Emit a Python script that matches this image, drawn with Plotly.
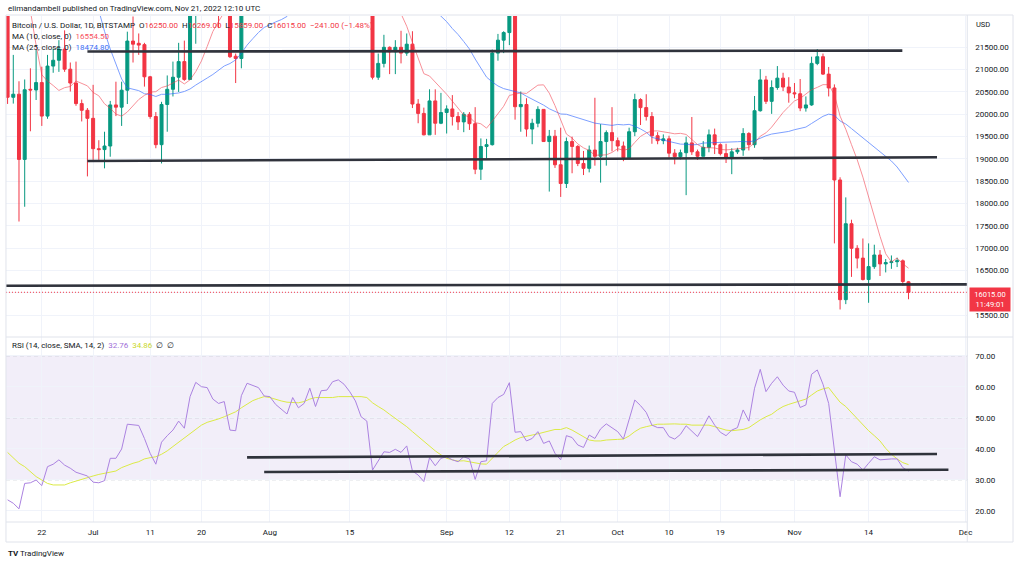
import pandas as pd
import plotly.graph_objects as go

# ---------------- data ----------------
dates = pd.date_range("2022-06-16", "2022-11-21", freq="D")

open_ = [
    22572, 20381, 20450, 18990, 20560, 20545, 20710, 19960, 21080, 21210, 21460, 21010, 20700, 20240, 20090,
    19910, 19230, 19210, 19290, 20210, 20160, 20540, 21640, 21590, 21560, 20840, 19950, 19320, 20220, 20560,
    20830, 21180, 20780, 22485, 23389, 23231, 23164, 22714, 22465, 22609, 21300, 21250, 22930, 23843, 23804, 23656,
    23336, 23314, 22978, 22846, 22630, 23289, 22961, 23175, 23810, 23149, 23954, 23935, 24403, 24441, 24306,
    24094, 23854, 23343, 23213, 20830, 21140, 21500, 21400, 21500, 21370, 21570, 20230, 20020, 19540, 20300, 19800,
    20040, 20120, 19950, 19830, 20000, 19790, 18770, 19280, 19320, 21370, 21660, 21830, 22380, 20170, 20220,
    19670, 19800, 20110, 19390, 19510, 18870, 18450, 19390, 19280, 18900, 18790, 19200, 19060, 19390, 19590,
    19410, 19290, 19030, 19610, 20330, 20150, 19950, 19520, 19410, 19450, 19130, 19050, 19140, 19360, 19160,
    19060, 19260, 19540, 19320, 19120, 19020, 19160, 19200, 19570, 19320, 20080, 20770, 20290, 20600, 20810, 20610,
    20480, 20460, 20140, 20210, 21140, 21290, 20900, 20590, 18530, 15850, 17550, 17000, 16780, 16300, 16590,
    16850, 16650, 16680, 16700, 16720, 16250,
]
high = [
    22980, 21330, 20740, 20780, 21030, 21440, 21066, 21330, 21470, 21660, 21880, 21160, 21180, 20330, 20140,
    20660, 19420, 19610, 20300, 20730, 20730, 21850, 22190, 21810, 21600, 20860, 20050, 20280, 20870, 21180,
    21600, 21650, 22760, 23800, 24280, 23430, 23760, 22980, 23010, 22650, 21360, 23100, 24171, 24440, 24647, 24184,
    23475, 23467, 23647, 23213, 23448, 23355, 23399, 24226, 23926, 24206, 24900, 24443, 24890, 25047, 25211,
    24247, 24438, 23602, 23220, 21360, 21780, 21520, 21660, 21870, 21810, 21860, 20340, 20150, 20560, 20560, 20480,
    20200, 20430, 20050, 20050, 20050, 20160, 19460, 19450, 21450, 21800, 21860, 22480, 22500, 20510, 20360,
    19900, 20180, 20110, 19650, 19650, 19700, 19480, 19500, 19310, 19180, 19300, 20370, 19780, 19640, 20160,
    19480, 19390, 19700, 20460, 20360, 20450, 20050, 19600, 19550, 19520, 19220, 19210, 19500, 19940, 19210,
    19400, 19660, 19680, 19350, 19340, 19240, 19250, 19690, 19600, 20410, 21010, 20860, 20760, 21080, 20930, 20830,
    20700, 20790, 20400, 21290, 21460, 21360, 21060, 20670, 18590, 18140, 17640, 17070, 17220, 17110, 17080,
    16960, 16760, 16840, 16790, 16750, 16269,
]
low = [
    20232, 20240, 17600, 17930, 19620, 20320, 19740, 19900, 20930, 20950, 20950, 20510, 20190, 19840, 18610,
    18980, 18980, 18790, 19050, 19960, 19740, 20230, 21160, 21330, 20620, 19900, 19240, 18900, 19610, 20400,
    20500, 20750, 20770, 21580, 22900, 22340, 22500, 21930, 22260, 21260, 20700, 21030, 22603, 23412, 23532, 23233,
    22860, 22692, 22700, 22454, 22590, 22936, 22847, 23157, 22883, 22678, 23874, 23601, 24309, 24126, 23779,
    23706, 23200, 23095, 20780, 20770, 21050, 20900, 20900, 21140, 21310, 20140, 19800, 19530, 19540, 19540, 19780,
    19570, 19750, 19650, 19600, 19650, 18660, 18530, 19010, 19300, 21200, 21370, 21550, 19880, 19610, 19500,
    19330, 19710, 19380, 18270, 18800, 18150, 18350, 18680, 18840, 18640, 18700, 18850, 18470, 18850, 19170,
    19170, 18950, 19000, 19510, 19760, 19860, 19340, 19330, 19330, 19030, 18880, 18990, 18190, 19090, 18980,
    19060, 19150, 19110, 19080, 18910, 18660, 19110, 19070, 19190, 19250, 20060, 20230, 20010, 20550, 20520, 20260,
    20360, 20070, 20060, 20190, 21100, 20880, 20400, 17110, 15630, 15750, 16360, 16550, 16280, 15780, 16540,
    16380, 16460, 16540, 16580, 16160, 15859,
]
close = [
    20381, 20450, 18990, 20550, 20545, 20710, 19960, 21080, 21210, 21460, 21010, 20700, 20240, 20090, 19910,
    19230, 19210, 19290, 20210, 20160, 20540, 21640, 21570, 21550, 20840, 19950, 19320, 20220, 20560, 20830,
    21180, 20780, 22485, 23389, 23231, 23164, 22714, 22465, 22609, 21290, 21250, 22930, 23843, 23804, 23656, 23336,
    23314, 22978, 22846, 22630, 23289, 22961, 23175, 23810, 23149, 23954, 23935, 24403, 24441, 24306, 24094,
    23854, 23343, 23213, 20830, 21140, 21500, 21400, 21500, 21370, 21570, 20230, 20020, 19540, 20300, 19800, 20040,
    20120, 19950, 19830, 20000, 19790, 18770, 19280, 19320, 21370, 21660, 21830, 22380, 20170, 20220, 19670,
    19800, 20110, 19390, 19510, 18870, 18450, 19390, 19280, 18900, 18790, 19200, 19060, 19390, 19590, 19410,
    19290, 19030, 19610, 20330, 20150, 19950, 19520, 19410, 19450, 19130, 19050, 19140, 19360, 19160, 19060,
    19260, 19540, 19320, 19120, 19020, 19160, 19200, 19570, 19320, 20080, 20770, 20290, 20600, 20810, 20610, 20480,
    20460, 20140, 20210, 21140, 21290, 20900, 20590, 18530, 15850, 17550, 17000, 16780, 16300, 16590, 16850,
    16650, 16680, 16700, 16720, 16256, 16015,
]
ma10 = [
    26317, 25249, 24127, 23171, 22317, 21548, 20885, 20744, 20645, 20534, 20597, 20622, 20747, 20701, 20637,
    20489, 20414, 20235, 20135, 20005, 19958, 20052, 20185, 20331, 20424, 20496, 20507, 20600, 20635, 20702,
    20766, 20680, 20772, 20955, 21195, 21516, 21855, 22080, 22285, 22331, 22338, 22553, 22689, 22730, 22773, 22790,
    22850, 22901, 22925, 23059, 23263, 23266, 23199, 23200, 23149, 23211, 23273, 23415, 23575, 23742, 23823,
    23912, 23929, 23869, 23637, 23356, 23112, 22812, 22518, 22224, 21972, 21610, 21277, 20910, 20857, 20723, 20577,
    20449, 20294, 20140, 19983, 19939, 19814, 19788, 19690, 19847, 20009, 20180, 20423, 20457, 20479, 20467,
    20570, 20653, 20660, 20474, 20195, 19857, 19558, 19469, 19337, 19249, 19189, 19084, 19084, 19092, 19146,
    19230, 19194, 19227, 19370, 19506, 19581, 19627, 19629, 19615, 19587, 19563, 19574, 19549, 19432, 19323,
    19254, 19256, 19247, 19214, 19203, 19214, 19220, 19241, 19257, 19359, 19510, 19585, 19713, 19882, 20041, 20173,
    20299, 20356, 20445, 20551, 20603, 20664, 20663, 20435, 19959, 19666, 19320, 18984, 18593, 18138, 17694,
    17269, 16878, 16695, 16782, 16653, 16554.5,
]
ma25 = [
    28300, 28000, 27730, 27370, 27018, 26701, 26338, 26003, 25582, 25168, 24817, 24427, 24048, 23658, 23258,
    22772, 22295, 21858, 21462, 21106, 20791, 20593, 20557, 20530, 20461, 20444, 20399, 20448, 20448, 20460,
    20478, 20511, 20567, 20655, 20725, 20812, 20892, 20981, 21082, 21137, 21218, 21367, 21549, 21693, 21832, 21944,
    22011, 22068, 22119, 22191, 22325, 22470, 22588, 22718, 22811, 22922, 23048, 23125, 23167, 23210, 23247,
    23293, 23328, 23352, 23334, 23329, 23272, 23174, 23082, 22991, 22920, 22797, 22679, 22546, 22453, 22314, 22197,
    22074, 21920, 21787, 21629, 21463, 21238, 21032, 20832, 20723, 20635, 20575, 20542, 20515, 20478, 20405,
    20341, 20286, 20206, 20124, 20070, 20007, 20001, 19960, 19924, 19874, 19837, 19802, 19784, 19768, 19752,
    19773, 19763, 19775, 19733, 19673, 19598, 19483, 19453, 19422, 19400, 19370, 19332, 19330, 19316, 19324,
    19356, 19362, 19364, 19373, 19382, 19380, 19386, 19393, 19382, 19409, 19468, 19519, 19558, 19578, 19596, 19617,
    19655, 19684, 19714, 19795, 19884, 19955, 20004, 19979, 19850, 19782, 19680, 19579, 19466, 19369, 19276,
    19174, 19059, 18954, 18820, 18639, 18474.8,
]
rsi = [
    23.5, 22.4, 20.6, 28.8, 29.0, 29.9, 28.1, 34.2, 35.0, 36.4, 34.7, 33.7, 32.4, 31.8, 31.2,
    29.2, 29.0, 29.7, 36.9, 36.9, 39.9, 47.9, 47.6, 47.5, 43.3, 38.5, 35.0, 42.1, 44.2, 46.0,
    48.9, 46.6, 56.8, 61.4, 60.0, 59.7, 56.0, 54.6, 55.2, 46.0, 45.8, 57.1, 61.1, 60.5, 59.7, 57.0,
    56.8, 54.3, 52.8, 51.2, 56.5, 53.2, 54.6, 59.5, 53.6, 58.7, 58.9, 61.6, 62.2, 60.8, 58.4,
    55.4, 50.3, 48.9, 33.1, 36.0, 39.0, 38.8, 39.8, 38.8, 40.9, 32.8, 31.5, 29.4, 37.1, 34.5, 36.9,
    37.4, 36.4, 35.8, 37.4, 36.7, 30.1, 35.8, 36.1, 54.6, 56.5, 57.5, 61.3, 45.3, 45.5, 42.5,
    43.3, 45.5, 41.7, 42.5, 38.5, 36.4, 44.2, 43.6, 41.2, 40.4, 44.4, 43.3, 46.4, 48.0, 46.6,
    45.5, 43.1, 49.3, 55.7, 53.9, 51.7, 47.6, 46.8, 46.8, 43.9, 43.1, 44.6, 47.4, 45.5, 43.9,
    47.1, 50.6, 47.6, 45.3, 44.2, 46.0, 46.8, 52.5, 48.9, 59.5, 65.6, 58.4, 61.1, 63.2, 60.5, 58.6,
    58.2, 53.3, 54.1, 64.0, 65.4, 60.8, 54.6, 38.5, 24.5, 38.0, 35.8, 35.0, 33.1, 35.3, 37.4,
    36.4, 36.6, 36.7, 36.7, 33.9, 32.76,
]
rsi_ma = [
    38.8, 36.9, 35.3, 34.2, 32.6, 31.0, 29.9, 28.8, 28.3, 28.2, 28.3, 29.0, 29.6, 30.1, 30.7,
    31.2, 31.7, 32.1, 32.4, 32.8, 33.9, 34.7, 35.3, 35.8, 36.7, 37.1, 37.4, 38.2, 39.3, 40.7,
    42.1, 43.3, 44.6, 46.2, 47.6, 48.5, 49.0, 49.6, 50.3, 51.1, 51.9, 53.2, 54.4, 55.5, 56.2, 56.8,
    56.5, 55.9, 55.4, 55.0, 54.8, 54.8, 55.2, 56.0, 56.5, 56.5, 56.5, 56.5, 56.8, 56.8, 57.0,
    57.0, 56.8, 56.5, 54.8, 53.6, 52.5, 51.1, 49.8, 48.5, 47.1, 45.5, 43.9, 42.3, 40.7, 39.3, 38.0,
    36.9, 36.4, 36.0, 36.1, 35.8, 35.3, 35.1, 35.0, 36.9, 39.0, 40.7, 41.7, 42.8, 43.6, 44.1,
    44.4, 44.8, 45.3, 45.8, 46.2, 46.2, 46.8, 46.0, 45.0, 43.9, 42.8, 42.5, 42.5, 42.8, 43.0,
    43.0, 43.1, 44.1, 45.5, 46.6, 47.1, 47.4, 47.9, 47.9, 48.0, 48.0, 47.9, 47.9, 47.6, 47.6,
    47.6, 47.6, 47.1, 46.6, 46.0, 45.8, 46.0, 46.2, 46.8, 48.2, 49.3, 50.3, 51.1, 52.5, 53.6, 54.3,
    54.8, 55.5, 56.0, 57.3, 58.6, 59.3, 59.7, 57.3, 55.0, 53.6, 51.7, 49.6, 47.6, 45.8, 44.2,
    42.5, 40.1, 38.2, 36.7, 35.5, 34.86,
]
assert all(len(a) == len(dates) for a in (open_, high, low, close, ma10, ma25, rsi, rsi_ma))

price_ticks = [15500, 16000, 16500, 17000, 17500, 18000, 18500, 19000, 19500, 20000, 20500, 21000, 21500]
# the 16000 label sits under the last-price marker in the reference, so it is left blank
price_tick_text = ["15500.00", "", "16500.00", "17000.00", "17500.00", "18000.00", "18500.00",
                   "19000.00", "19500.00", "20000.00", "20500.00", "21000.00", "21500.00"]
rsi_ticks = [20, 30, 40, 50, 60, 70]
rsi_levels = [30, 50, 70]
time_tick_dates = ["2022-06-22", "2022-07-01", "2022-07-11", "2022-07-20", "2022-08-01", "2022-08-15",
                   "2022-09-01", "2022-09-12", "2022-09-21", "2022-10-01", "2022-10-10", "2022-10-19",
                   "2022-11-01", "2022-11-14", "2022-12-01"]
time_tick_labels = ["22", "Jul", "11", "20", "Aug", "15", "Sep", "12", "21", "Oct", "10", "19", "Nov", "14", "Dec"]

# hand-drawn trend lines (endpoints)
resist_dates = ["2022-06-30", "2022-11-19 22:00"]
resist_prices = [21405, 21425]
mid_dates = ["2022-06-30", "2022-11-26"]
mid_prices = [18954, 19037]
support_dates = ["2022-06-15 17:12", "2022-12-01 07:14"]
support_prices = [16162, 16193]
rsi_up_dates = ["2022-07-28", "2022-11-26"]
rsi_up_vals = [37.2, 38.3]
rsi_low_dates = ["2022-07-31", "2022-11-28"]
rsi_low_vals = [32.5, 33.2]

# ---------------- styling ----------------
GREEN = "#089981"
RED = "#f23645"
GRID = "#f0f3fa"
FRAME = "#e0e3eb"
TEXT = "#131722"
BLUE_TXT = "#3d6ef5"
PURPLE = "#ab82e0"
PURPLE_TXT = "#a06fd8"
YELLOW = "#dbea45"
TREND = "#30333c"
FONT = "Roboto"
W, H = 1024, 565


def px(x):
    return x / W


def py(y):
    return 1 - y / H


X_DOM = [px(6), px(972)]
X_RANGE = ["2022-06-15 17:12", "2022-12-01 07:14"]

fig = go.Figure()
fig.add_trace(go.Candlestick(
    x=dates, open=open_, high=high, low=low, close=close,
    increasing=dict(line=dict(color=GREEN, width=1), fillcolor=GREEN),
    decreasing=dict(line=dict(color=RED, width=1), fillcolor=RED),
    whiskerwidth=0, xaxis="x", yaxis="y", hoverinfo="skip", showlegend=False,
))
fig.add_trace(go.Scatter(x=dates, y=ma25, mode="lines", line=dict(color="#2962ff", width=1),
                         opacity=0.6, xaxis="x", yaxis="y", hoverinfo="skip"))
fig.add_trace(go.Scatter(x=dates, y=ma10, mode="lines", line=dict(color=RED, width=1),
                         opacity=0.55, xaxis="x", yaxis="y", hoverinfo="skip"))
for dts, vals in ((resist_dates, resist_prices), (mid_dates, mid_prices), (support_dates, support_prices)):
    fig.add_trace(go.Scatter(x=dts, y=vals, mode="lines", line=dict(color=TREND, width=2.6),
                             xaxis="x", yaxis="y", hoverinfo="skip"))

fig.add_trace(go.Scatter(x=dates, y=rsi_ma, mode="lines", line=dict(color=YELLOW, width=1),
                         xaxis="x2", yaxis="y2", hoverinfo="skip"))
fig.add_trace(go.Scatter(x=dates, y=rsi, mode="lines", line=dict(color=PURPLE, width=1),
                         xaxis="x2", yaxis="y2", hoverinfo="skip"))
for dts, vals in ((rsi_up_dates, rsi_up_vals), (rsi_low_dates, rsi_low_vals)):
    fig.add_trace(go.Scatter(x=dts, y=vals, mode="lines", line=dict(color=TREND, width=2.6),
                             xaxis="x2", yaxis="y2", hoverinfo="skip"))

shapes = []
# RSI band and level lines
shapes.append(dict(type="rect", xref="x2 domain", x0=0, x1=1, yref="y2", y0=rsi_levels[0], y1=rsi_levels[-1],
                   fillcolor="rgba(126,87,194,0.10)", line=dict(width=0), layer="below"))
for lv in rsi_levels:
    shapes.append(dict(type="line", xref="x2 domain", x0=0, x1=1, yref="y2", y0=lv, y1=lv,
                       line=dict(color="#a6a9b2", width=1, dash="4px,3px"), layer="below"))
# current price dotted line
shapes.append(dict(type="line", xref="x domain", x0=0, x1=1, yref="y", y0=close[-1], y1=close[-1],
                   line=dict(color=RED, width=1, dash="1px,2px")))
# frame / separators
for (x0, y0, x1, y1) in [(6, 15, 1018, 15), (6, 337, 1018, 337), (6, 522, 972, 522), (6, 542, 1018, 542),
                         (6, 15, 6, 542), (972, 15, 972, 542), (1018, 15, 1018, 542)]:
    shapes.append(dict(type="line", xref="paper", yref="paper", x0=px(x0), x1=px(x1), y0=py(y0), y1=py(y1),
                       line=dict(color=FRAME, width=1)))

last_chg = close[-1] - close[-2]
last_pct = last_chg / close[-2] * 100


def fmt_signed(v, suffix=""):
    s = f"{abs(v):.2f}{suffix}"
    return ("\u2212" + s) if v < 0 else ("+" + s)


def red(t):
    return f'<span style="color:{RED}">{t}</span>'


sp = "\u00a0\u00a0"
line1 = ("Bitcoin / U.S. Dollar, 1D, BITSTAMP" + sp +
         "O" + red(f"{open_[-1]:.2f}") + sp + "H" + red(f"{high[-1]:.2f}") + sp +
         "L" + red(f"{low[-1]:.2f}") + sp + "C" + red(f"{close[-1]:.2f}") + sp +
         red(f"{fmt_signed(last_chg)} ({fmt_signed(last_pct, '%')})"))
line2 = "MA (10, close, 0)" + sp + f'<span style="color:#f7525f">{ma10[-1]:.2f}</span>'
line3 = "MA (25, close, 0)" + sp + f'<span style="color:{BLUE_TXT}">{ma25[-1]:.2f}</span>'
line_rsi = ("RSI (14, close, SMA, 14, 2)" + sp + f'<span style="color:{PURPLE_TXT}">{rsi[-1]:.2f}</span>' + sp +
            f'<span style="color:#c9d82c">{rsi_ma[-1]:.2f}</span>' + sp + "\u2205" + sp + "\u2205")

annos = []


def add_text(text, x, y, size=8, color=TEXT, xanchor="left"):
    annos.append(dict(text=text, xref="paper", yref="paper", x=px(x), y=py(y), xanchor=xanchor,
                      yanchor="middle", showarrow=False, font=dict(family=FONT, size=size, color=color)))


add_text("elimandambell published on TradingView.com, Nov 21, 2022 12:10 UTC", 6, 8.5, size=8)
add_text(line1, 10, 25.7)
add_text(line2, 10, 36.7)
add_text(line3, 10, 47.3)
add_text(line_rsi, 10, 345.7)
add_text("USD", 979, 25, size=7.5)
add_text("<b>TV</b> TradingView", 6, 553, size=8)
annos.append(dict(text=f"{close[-1]:.2f}<br>11:49:01", xref="paper", x=px(974), xanchor="left",
                  yref="y", y=close[-1], yanchor="top", yshift=5, showarrow=False, bgcolor=RED,
                  width=36, borderpad=2, align="center",
                  font=dict(family=FONT, size=7.5, color="white")))

axis_font = dict(family=FONT, size=8, color=TEXT)
fig.update_layout(
    width=W, height=H, margin=dict(l=0, r=0, t=0, b=0),
    paper_bgcolor="white", plot_bgcolor="white", showlegend=False,
    font=dict(family=FONT, size=8, color=TEXT),
    boxgap=0.25,
    xaxis=dict(domain=X_DOM, type="date", range=X_RANGE, anchor="y", rangeslider=dict(visible=False),
               tickvals=time_tick_dates, showticklabels=False, showgrid=True, gridcolor=GRID,
               zeroline=False, showline=False, ticks=""),
    yaxis=dict(domain=[py(337), py(16)], range=[15014, 22201], side="right", anchor="x",
               tickvals=price_ticks, ticktext=price_tick_text, showgrid=True, gridcolor=GRID, zeroline=False,
               showline=False, ticks="", ticklabelstandoff=7, tickfont=axis_font),
    xaxis2=dict(domain=X_DOM, type="date", range=X_RANGE, anchor="y2",
                tickvals=time_tick_dates, ticktext=time_tick_labels, showgrid=True, gridcolor=GRID,
                zeroline=False, showline=False, ticks="", ticklabelstandoff=4, tickfont=axis_font),
    yaxis2=dict(domain=[py(522), py(337)], range=[16.35, 76.03], side="right", anchor="x2",
                tickvals=rsi_ticks, tickformat=".2f", showgrid=True, gridcolor=GRID, zeroline=False,
                showline=False, ticks="", ticklabelstandoff=7, tickfont=axis_font),
    shapes=shapes, annotations=annos,
)

fig.write_html("out.html", config={"displayModeBar": False},
               post_script="document.body.style.margin='0';document.body.style.overflow='hidden';")
